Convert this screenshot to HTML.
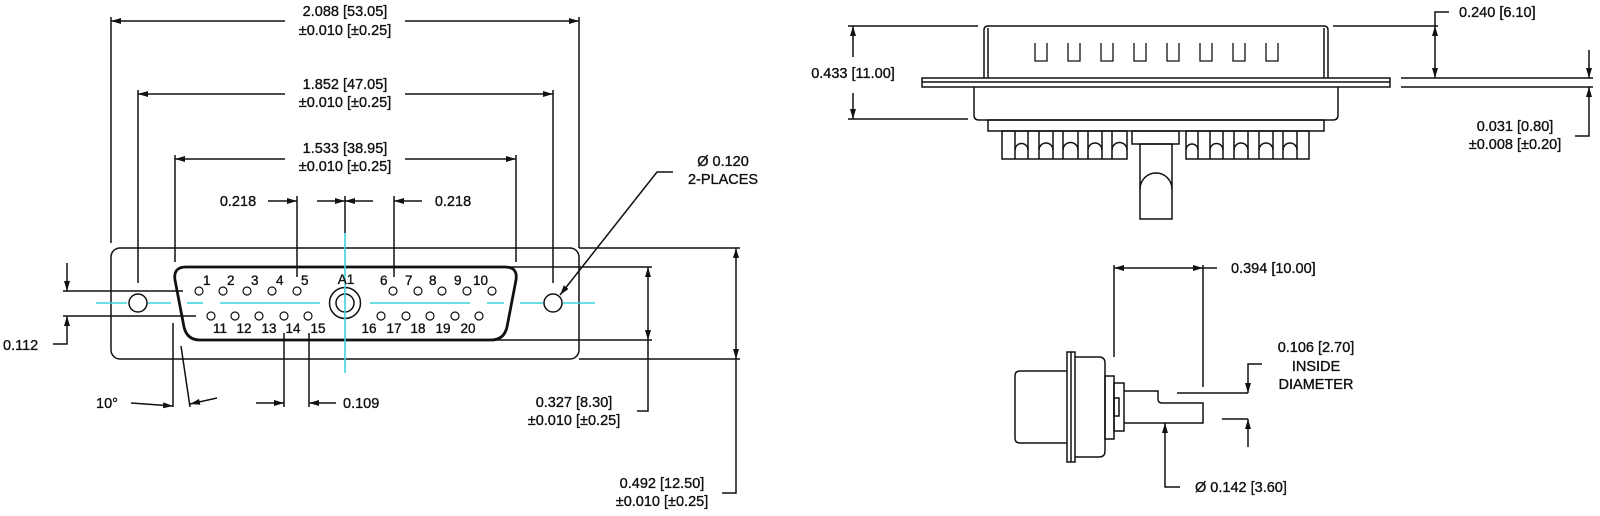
<!DOCTYPE html>
<html><head><meta charset="utf-8"><style>
html,body{margin:0;padding:0;background:#fff;}
svg{display:block;}
text{font-family:"Liberation Sans",Arial,sans-serif;font-size:14.5px;fill:#111;stroke:#111;stroke-width:0.35px;}
.p{font-size:13.5px;}
</style></head><body>
<svg width="1600" height="516" viewBox="0 0 1600 516" xmlns="http://www.w3.org/2000/svg">
<defs>
<marker id="a" viewBox="0 0 10 6" refX="10" refY="3" markerWidth="10" markerHeight="6" markerUnits="userSpaceOnUse" orient="auto-start-reverse"><path d="M0,0 L10,3 L0,6 z" fill="#111"/></marker>
</defs>
<g stroke="#111" stroke-width="1.5" fill="none">
<rect x="111" y="248" width="468" height="111" rx="9"/>
<path d="M186,267 L505,267 Q518,267 516,280 L507,327 Q504,340 491,340 L200,340 Q187,340 184,327 L175,280 Q173,267 186,267 Z" stroke-width="2.8"/>
<circle cx="138" cy="303" r="9"/>
<circle cx="553" cy="303" r="9"/>
<circle cx="345" cy="303" r="15.5"/>
<circle cx="345" cy="303" r="9"/>
<g stroke-width="1.2">
<circle cx="199" cy="291" r="4"/><circle cx="223" cy="291" r="4"/><circle cx="247" cy="291" r="4"/><circle cx="272" cy="291" r="4"/><circle cx="297" cy="291" r="4"/>
<circle cx="393" cy="291" r="4"/><circle cx="418" cy="291" r="4"/><circle cx="442" cy="291" r="4"/><circle cx="467" cy="291" r="4"/><circle cx="492" cy="291" r="4"/>
<circle cx="211" cy="316" r="4"/><circle cx="235" cy="316" r="4"/><circle cx="259" cy="316" r="4"/><circle cx="284" cy="316" r="4"/><circle cx="308" cy="316" r="4"/>
<circle cx="381" cy="316" r="4"/><circle cx="406" cy="316" r="4"/><circle cx="430" cy="316" r="4"/><circle cx="455" cy="316" r="4"/><circle cx="479" cy="316" r="4"/>
</g>
<g stroke="#3fd3dd" stroke-width="1.6">
<line x1="96" y1="303" x2="127" y2="303"/><line x1="148" y1="303" x2="171" y2="303"/>
<line x1="187" y1="303" x2="203" y2="303"/><line x1="220" y1="303" x2="320" y2="303"/>
<line x1="370" y1="303" x2="470" y2="303"/><line x1="487" y1="303" x2="504" y2="303"/>
<line x1="520" y1="303" x2="543" y2="303"/><line x1="563" y1="303" x2="595" y2="303"/>
<line x1="345" y1="233" x2="345" y2="373"/>
</g>
<line x1="111" y1="17" x2="111" y2="243"/><line x1="579" y1="17" x2="579" y2="248"/>
<line x1="111" y1="21" x2="285" y2="21" marker-start="url(#a)"/><line x1="405" y1="21" x2="579" y2="21" marker-end="url(#a)"/>
<line x1="138" y1="90" x2="138" y2="283"/><line x1="553" y1="90" x2="553" y2="283"/>
<line x1="138" y1="94" x2="285" y2="94" marker-start="url(#a)"/><line x1="405" y1="94" x2="553" y2="94" marker-end="url(#a)"/>
<line x1="175" y1="155" x2="175" y2="262"/><line x1="516" y1="155" x2="516" y2="262"/>
<line x1="175" y1="159" x2="285" y2="159" marker-start="url(#a)"/><line x1="405" y1="159" x2="516" y2="159" marker-end="url(#a)"/>
<line x1="297" y1="196" x2="297" y2="277"/><line x1="394" y1="196" x2="394" y2="277"/>
<line x1="345" y1="196" x2="345" y2="233"/>
<line x1="268" y1="201" x2="297" y2="201" marker-end="url(#a)"/>
<line x1="317" y1="201" x2="345" y2="201" marker-end="url(#a)"/>
<line x1="373" y1="201" x2="345" y2="201" marker-end="url(#a)"/>
<line x1="422" y1="201" x2="394" y2="201" marker-end="url(#a)"/>
<line x1="63" y1="291" x2="183" y2="291"/><line x1="63" y1="316" x2="196" y2="316"/>
<line x1="67" y1="263" x2="67" y2="291" marker-end="url(#a)"/>
<polyline points="53,344 67,344 67,316" marker-end="url(#a)"/>
<line x1="173" y1="323" x2="173" y2="407"/>
<line x1="181" y1="346" x2="190" y2="407"/>
<line x1="131" y1="403" x2="173" y2="406" marker-end="url(#a)"/>
<line x1="217" y1="398" x2="190" y2="404" marker-end="url(#a)"/>
<line x1="284" y1="333" x2="284" y2="407"/><line x1="309" y1="333" x2="309" y2="407"/>
<line x1="256" y1="403" x2="284" y2="403" marker-end="url(#a)"/>
<line x1="336" y1="403" x2="309" y2="403" marker-end="url(#a)"/>
<polyline points="673,172 657,172 560,295" marker-end="url(#a)"/>
<line x1="505" y1="267" x2="652" y2="267"/><line x1="493" y1="340" x2="652" y2="340"/>
<line x1="648" y1="267" x2="648" y2="340" marker-start="url(#a)" marker-end="url(#a)"/>
<polyline points="648,340 648,411 637,411"/>
<line x1="579" y1="248" x2="740" y2="248"/><line x1="579" y1="359" x2="740" y2="359"/>
<line x1="736" y1="248" x2="736" y2="359" marker-start="url(#a)" marker-end="url(#a)"/>
<polyline points="736,359 736,493 722,493"/>

<path d="M984,78 L984,30 Q984,26 988,26 L1324,26 Q1328,26 1328,30 L1328,78"/>
<line x1="988" y1="28" x2="988" y2="78"/><line x1="1324" y1="28" x2="1324" y2="78"/>
<g stroke-width="1.3">
<path d="M1035,43 V61 H1047 V43"/><path d="M1068,43 V61 H1080 V43"/><path d="M1101,43 V61 H1113 V43"/><path d="M1134,43 V61 H1146 V43"/>
<path d="M1167,43 V61 H1179 V43"/><path d="M1200,43 V61 H1212 V43"/><path d="M1233,43 V61 H1245 V43"/><path d="M1266,43 V61 H1278 V43"/>
</g>
<rect x="922" y="78" width="468" height="9"/><line x1="922" y1="82" x2="1390" y2="82"/>
<path d="M974,87 L974,115 Q974,120 979,120 L1333,120 Q1338,120 1338,115 L1338,87"/>
<rect x="988" y="120" width="336" height="11"/>
<rect x="1002" y="131" width="125" height="28"/>
<g>
<line x1="1015" y1="131" x2="1015" y2="159"/><line x1="1028" y1="131" x2="1028" y2="159"/>
<line x1="1039" y1="131" x2="1039" y2="159"/><line x1="1053" y1="131" x2="1053" y2="159"/>
<line x1="1063" y1="131" x2="1063" y2="159"/><line x1="1078" y1="131" x2="1078" y2="159"/>
<line x1="1088" y1="131" x2="1088" y2="159"/><line x1="1102" y1="131" x2="1102" y2="159"/>
<line x1="1112" y1="131" x2="1112" y2="159"/>
<path d="M1015,150 A6.5,6.5 0 0 1 1028,150"/><path d="M1039,150 A7,7 0 0 1 1053,150"/><path d="M1063,150 A7.5,7.5 0 0 1 1078,150"/><path d="M1088,150 A7,7 0 0 1 1102,150"/><path d="M1112,150 A7.5,7.5 0 0 1 1127,150"/>
</g>
<rect x="1186" y="131" width="123" height="28"/>
<g>
<line x1="1198" y1="131" x2="1198" y2="159"/><line x1="1210" y1="131" x2="1210" y2="159"/>
<line x1="1223" y1="131" x2="1223" y2="159"/><line x1="1234" y1="131" x2="1234" y2="159"/>
<line x1="1248" y1="131" x2="1248" y2="159"/><line x1="1259" y1="131" x2="1259" y2="159"/>
<line x1="1273" y1="131" x2="1273" y2="159"/><line x1="1283" y1="131" x2="1283" y2="159"/>
<line x1="1297" y1="131" x2="1297" y2="159"/>
<path d="M1186,150 A6,6 0 0 1 1198,150"/><path d="M1210,150 A6.5,6.5 0 0 1 1223,150"/><path d="M1234,150 A7,7 0 0 1 1248,150"/><path d="M1259,150 A7,7 0 0 1 1273,150"/><path d="M1283,150 A7,7 0 0 1 1297,150"/>
</g>
<rect x="1132" y="131" width="47" height="13"/>
<rect x="1140" y="144" width="32" height="75"/>
<path d="M1140,189 A16,16 0 0 1 1172,189"/>
<line x1="848" y1="26" x2="978" y2="26"/><line x1="848" y1="119" x2="968" y2="119"/>
<line x1="853" y1="57" x2="853" y2="26" marker-end="url(#a)"/>
<line x1="853" y1="93" x2="853" y2="119" marker-end="url(#a)"/>
<line x1="1333" y1="26" x2="1438" y2="26"/>
<line x1="1435" y1="26" x2="1435" y2="78" marker-start="url(#a)" marker-end="url(#a)"/>
<polyline points="1435,26 1435,12 1449,12"/>
<line x1="1401" y1="78" x2="1593" y2="78"/><line x1="1401" y1="87" x2="1593" y2="87"/>
<line x1="1589" y1="50" x2="1589" y2="78" marker-end="url(#a)"/>
<polyline points="1575,136 1589,136 1589,87" marker-end="url(#a)"/>

<path d="M1067,371 L1020,371 Q1015,371 1015,376 L1015,438 Q1015,443 1020,443 L1067,443"/>
<rect x="1067" y="352" width="8" height="110"/><line x1="1071" y1="352" x2="1071" y2="462"/>
<path d="M1075,357 L1099,357 Q1105,357 1105,363 L1105,451 Q1105,457 1099,457 L1075,457"/>
<rect x="1105" y="376" width="9" height="63"/>
<rect x="1114" y="383" width="10" height="48"/>
<rect x="1114" y="398" width="5" height="18"/>
<path d="M1124,391 L1158,391 L1158,399 Q1158,403 1162,403 L1203,403 L1203,423 L1124,423"/>
<line x1="1114" y1="265" x2="1114" y2="357"/><line x1="1203" y1="265" x2="1203" y2="387"/>
<line x1="1114" y1="268" x2="1203" y2="268" marker-start="url(#a)" marker-end="url(#a)"/>
<line x1="1203" y1="268" x2="1217" y2="268"/>
<line x1="1177" y1="393" x2="1248" y2="393"/><line x1="1222" y1="419" x2="1248" y2="419"/>
<polyline points="1262,364 1248,364 1248,393" marker-end="url(#a)"/>
<line x1="1248" y1="447" x2="1248" y2="419" marker-end="url(#a)"/>
<polyline points="1180,487 1165,487 1165,423" marker-end="url(#a)"/>
</g>

<g text-anchor="middle">
<text x="345" y="16">2.088 [53.05]</text><text x="345" y="35">±0.010 [±0.25]</text>
<text x="345" y="89">1.852 [47.05]</text><text x="345" y="107">±0.010 [±0.25]</text>
<text x="345" y="153">1.533 [38.95]</text><text x="345" y="171">±0.010 [±0.25]</text>
<text x="238" y="206">0.218</text><text x="453" y="206">0.218</text>
<text x="723" y="166">Ø 0.120</text><text x="723" y="184">2-PLACES</text>
<text x="574" y="407">0.327 [8.30]</text><text x="574" y="425">±0.010 [±0.25]</text>
<text x="662" y="488">0.492 [12.50]</text><text x="662" y="506">±0.010 [±0.25]</text>
<text x="107" y="408">10°</text>
<text x="853" y="78">0.433 [11.00]</text>
<text x="1515" y="131">0.031 [0.80]</text><text x="1515" y="149">±0.008 [±0.20]</text>
<text x="1316" y="352">0.106 [2.70]</text><text x="1316" y="371">INSIDE</text><text x="1316" y="389">DIAMETER</text>
<text x="346" y="284" class="p">A1</text>
</g>
<text x="3" y="350">0.112</text>
<text x="343" y="408">0.109</text>
<text x="1459" y="17">0.240 [6.10]</text>
<text x="1231" y="273">0.394 [10.00]</text>
<text x="1195" y="492">Ø 0.142 [3.60]</text>
<g>
<text class="p" x="203" y="285">1</text><text class="p" x="227" y="285">2</text><text class="p" x="251" y="285">3</text><text class="p" x="276" y="285">4</text><text class="p" x="301" y="285">5</text>
<text class="p" x="380" y="285">6</text><text class="p" x="405" y="285">7</text><text class="p" x="429" y="285">8</text><text class="p" x="454" y="285">9</text><text class="p" x="473" y="285">10</text>
</g>
<g text-anchor="middle">
<text class="p" x="220" y="333">11</text><text class="p" x="244" y="333">12</text><text class="p" x="269" y="333">13</text><text class="p" x="293" y="333">14</text><text class="p" x="318" y="333">15</text>
<text class="p" x="369" y="333">16</text><text class="p" x="394" y="333">17</text><text class="p" x="418" y="333">18</text><text class="p" x="443" y="333">19</text><text class="p" x="468" y="333">20</text>
</g>
</svg>
</body></html>
